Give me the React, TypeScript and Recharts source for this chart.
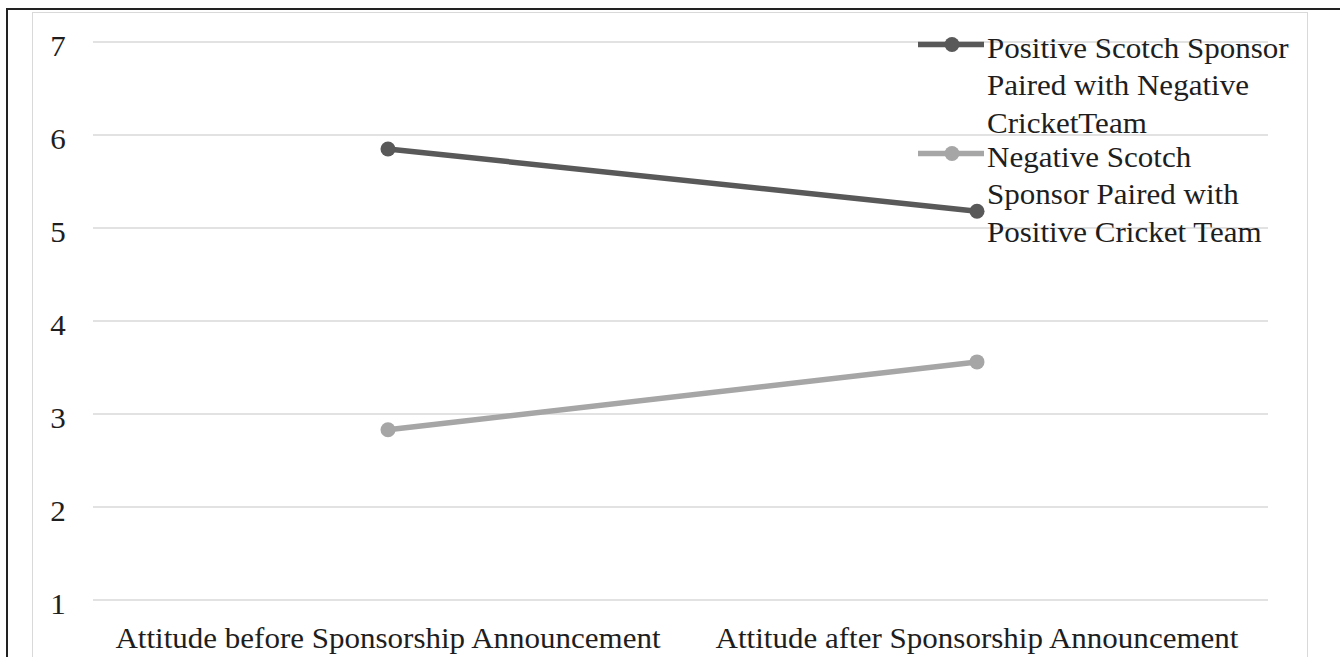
import React from 'react';
import { LineChart, Line, XAxis, YAxis, CartesianGrid } from 'recharts';

const categories = ['Attitude before Sponsorship Announcement', 'Attitude after Sponsorship Announcement'];
const positiveScotch = [5.85, 5.18];
const negativeScotch = [2.83, 3.56];
const yTicks = [1, 2, 3, 4, 5, 6, 7];
const seriesNames = [
  'Positive Scotch Sponsor Paired with Negative CricketTeam',
  'Negative Scotch Sponsor Paired with Positive Cricket Team',
];
const legendLines = [
  ['Positive Scotch Sponsor', 'Paired with Negative', 'CricketTeam'],
  ['Negative Scotch', 'Sponsor Paired with', 'Positive Cricket Team'],
];
const seriesColors = ['#595959', '#a6a6a6'];

const data = categories.map((c, i) => ({
  category: c,
  pos: positiveScotch[i],
  neg: negativeScotch[i],
}));

const FONT = '"Liberation Serif", "Times New Roman", serif';
const FS = 29;
const SX = 1.07;

const YTick = (props: any) => {
  const { y, payload } = props;
  return (
    <text
      transform={`translate(58, ${y + 13.5}) scale(${SX},1)`}
      textAnchor="middle"
      fontFamily={FONT}
      fontSize={FS}
      fill="#1e1e1e"
    >
      {payload.value}
    </text>
  );
};

const XTick = (props: any) => {
  const { x, payload } = props;
  return (
    <text
      transform={`translate(${x}, 648) scale(${SX},1)`}
      textAnchor="middle"
      fontFamily={FONT}
      fontSize={FS}
      fill="#1e1e1e"
    >
      {payload.value}
    </text>
  );
};

const ChartLegend = () => {
  const tops = [29.5, 138.5];
  return (
    <>
      {legendLines.map((lines, i) => (
        <div key={i} style={{ position: 'absolute', left: 918, top: tops[i] }} title={seriesNames[i]}>
          <svg width={68} height={30} style={{ position: 'absolute', left: 0, top: 0 }}>
            <line x1={0} y1={14.5} x2={66} y2={14.5} stroke={seriesColors[i]} strokeWidth={5.5} />
            <circle cx={34} cy={14.5} r={7.5} fill={seriesColors[i]} />
          </svg>
          <div
            style={{
              position: 'absolute',
              left: 69,
              top: 0,
              fontFamily: FONT,
              fontSize: FS,
              lineHeight: '37.5px',
              color: '#1e1e1e',
              whiteSpace: 'nowrap',
              transform: `scale(${SX},1)`,
              transformOrigin: 'left top',
            }}
          >
            {lines.map((l, j) => (
              <div key={j}>{l}</div>
            ))}
          </div>
        </div>
      ))}
    </>
  );
};

export default function App() {
  return (
    <div
      style={{
        position: 'absolute',
        left: 0,
        top: 0,
        width: 1340,
        height: 657,
        background: '#fff',
        overflow: 'hidden',
      }}
    >
      <div
        style={{
          position: 'absolute',
          left: 6,
          top: 8,
          width: 1400,
          height: 700,
          borderLeft: '2px solid #222',
          borderTop: '2px solid #222',
        }}
      />
      <div
        style={{
          position: 'absolute',
          left: 32,
          top: 12,
          width: 1274,
          height: 700,
          borderLeft: '1px solid #d9d9d9',
          borderTop: '1px solid #d9d9d9',
          borderRight: '1px solid #d9d9d9',
        }}
      />
      <div style={{ position: 'absolute', left: 0, top: 0 }}>
        <LineChart
          width={1340}
          height={657}
          data={data}
          margin={{ top: 42, right: 72, bottom: 0, left: 0 }}
        >
          <CartesianGrid vertical={false} stroke="#d9d9d9" strokeWidth={1.5} />
          <XAxis
            dataKey="category"
            height={57}
            axisLine={false}
            tickLine={false}
            padding={{ left: 295, right: 291 }}
            tick={<XTick />}
            interval={0}
          />
          <YAxis
            width={93}
            domain={[1, 7]}
            ticks={yTicks}
            axisLine={false}
            tickLine={false}
            tick={<YTick />}
            interval={0}
          />
          <Line
            dataKey="pos"
            name={seriesNames[0]}
            stroke={seriesColors[0]}
            strokeWidth={5.5}
            dot={{ r: 7.5, fill: seriesColors[0], stroke: 'none' }}
            isAnimationActive={false}
          />
          <Line
            dataKey="neg"
            name={seriesNames[1]}
            stroke={seriesColors[1]}
            strokeWidth={5.5}
            dot={{ r: 7.5, fill: seriesColors[1], stroke: 'none' }}
            isAnimationActive={false}
          />
        </LineChart>
      </div>
      <ChartLegend />
    </div>
  );
}
